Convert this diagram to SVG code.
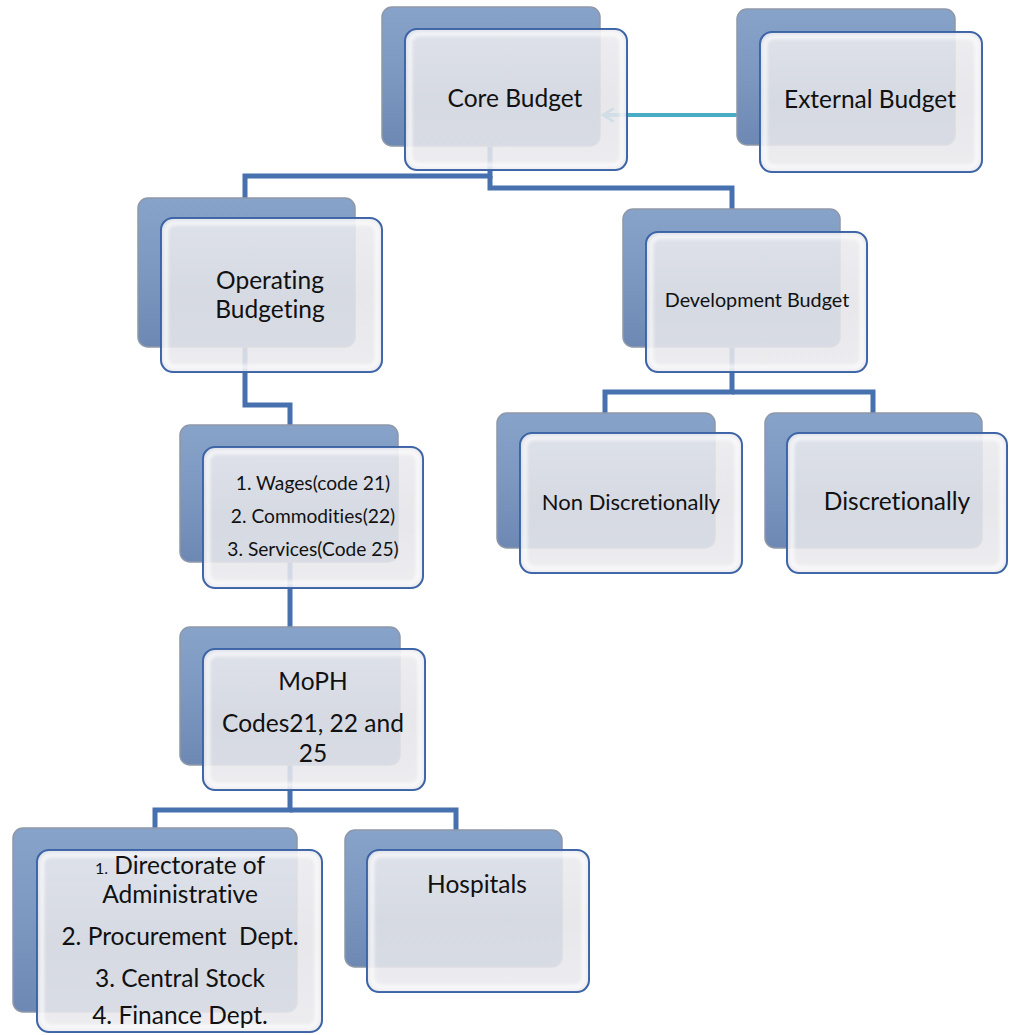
<svg xmlns="http://www.w3.org/2000/svg" width="1012" height="1035" viewBox="0 0 1012 1035">
  <defs>
    <linearGradient id="backFill" x1="0" y1="0" x2="0" y2="1">
      <stop offset="0" stop-color="#88a3c9"/>
      <stop offset="0.5" stop-color="#7c98c1"/>
      <stop offset="1" stop-color="#6d89b3"/>
    </linearGradient>
    <linearGradient id="frontFill" x1="0" y1="0" x2="0" y2="1">
      <stop offset="0" stop-color="#ebebef"/>
      <stop offset="0.5" stop-color="#e4e4e8"/>
      <stop offset="1" stop-color="#eaeaee"/>
    </linearGradient>
    <filter id="soft" x="-5%" y="-5%" width="110%" height="110%">
      <feGaussianBlur stdDeviation="1.5"/>
    </filter>
    <marker id="chev" viewBox="0 0 12 12" refX="10" refY="6" markerWidth="4" markerHeight="4" orient="auto" markerUnits="strokeWidth">
      <path d="M2,1 L10,6 L2,11" fill="none" stroke="#4bacc6" stroke-width="2"/>
    </marker>
  </defs>
  <style>
    .back { fill: url(#backFill); stroke: #8e98a8; stroke-width: 1.5; }
    .front { fill: url(#frontFill); fill-opacity: 0.87; stroke: #3a62a6; stroke-width: 2; }
    .glow { fill: none; stroke: #ffffff; stroke-opacity: 0.6; stroke-width: 5; filter: url(#soft); }
    .conn { fill: none; stroke: #4671ae; stroke-width: 5; stroke-linejoin: miter; }
    .ext { fill: none; stroke: #4bacc6; stroke-width: 4; }
    text { font-family: Lato, "Open Sans", "DejaVu Sans", sans-serif; fill: #111111; text-anchor: middle; font-variant-ligatures: none; font-feature-settings: "liga" 0, "dlig" 0; }
    .lg { font-size: 24.5px; }
    .md { font-size: 22px; }
    .dv { font-size: 19.8px; }
    .sm { font-size: 19.2px; }
    .xs { font-size: 16px; }
  </style>

  <rect x="0" y="0" width="1012" height="1035" fill="#ffffff"/>

  <!-- elbow connectors and the external funding arrow -->
  <g id="connectors">
    <path class="conn" d="M490,146 V176 H245 V198"/>
    <path class="conn" d="M490,176 V188 H732 V209"/>
    <path class="conn" d="M245,347 V405 H290 V425"/>
    <path class="conn" d="M290,562 V627"/>
    <path class="conn" d="M290,765 V810 H155 V828"/>
    <path class="conn" d="M290,810 H456 V830"/>
    <path class="conn" d="M732,347 V392 H605 V413"/>
    <path class="conn" d="M732,392 H873 V413"/>
    <path class="ext" d="M760,115 H603" marker-end="url(#chev)"/>
  </g>

  <g id="core-budget">
    <rect class="back" x="382" y="7" width="218" height="139" rx="10"/>
    <rect class="front" x="405" y="29" width="222" height="141" rx="12"/>
    <rect class="glow" x="410" y="34" width="212" height="131" rx="9"/>
    <text class="lg" x="515" y="107">Core Budget</text>
  </g>

  <g id="external-budget">
    <rect class="back" x="737" y="9" width="218" height="136" rx="10"/>
    <rect class="front" x="760" y="32" width="222" height="140" rx="12"/>
    <rect class="glow" x="765" y="37" width="212" height="130" rx="9"/>
    <text class="lg" x="870" y="108">External Budget</text>
  </g>

  <g id="operating-budgeting">
    <rect class="back" x="138" y="198" width="217" height="149" rx="10"/>
    <rect class="front" x="161" y="218" width="221" height="154" rx="12"/>
    <rect class="glow" x="166" y="223" width="211" height="144" rx="9"/>
    <text class="lg" x="270" y="289">Operating</text>
    <text class="lg" x="270" y="318">Budgeting</text>
  </g>

  <g id="development-budget">
    <rect class="back" x="623" y="209" width="217" height="138" rx="10"/>
    <rect class="front" x="646" y="232" width="221" height="140" rx="12"/>
    <rect class="glow" x="651" y="237" width="211" height="130" rx="9"/>
    <text class="dv" x="757" y="307">Development Budget</text>
  </g>

  <g id="non-discretionally">
    <rect class="back" x="497" y="413" width="218" height="135" rx="10"/>
    <rect class="front" x="520" y="433" width="222" height="140" rx="12"/>
    <rect class="glow" x="525" y="438" width="212" height="130" rx="9"/>
    <text class="md" x="631" y="510">Non Discretionally</text>
  </g>

  <g id="discretionally">
    <rect class="back" x="765" y="413" width="217" height="135" rx="10"/>
    <rect class="front" x="787" y="433" width="220" height="140" rx="12"/>
    <rect class="glow" x="792" y="438" width="210" height="130" rx="9"/>
    <text class="lg" x="897" y="510">Discretionally</text>
  </g>

  <g id="expense-codes">
    <rect class="back" x="180" y="425" width="218" height="137" rx="10"/>
    <rect class="front" x="203" y="447" width="220" height="141" rx="12"/>
    <rect class="glow" x="208" y="452" width="210" height="131" rx="9"/>
    <text class="sm" x="313" y="490">1. Wages(code 21)</text>
    <text class="sm" x="313" y="523">2. Commodities(22)</text>
    <text class="sm" x="313" y="556">3. Services(Code 25)</text>
  </g>

  <g id="moph">
    <rect class="back" x="180" y="627" width="220" height="138" rx="10"/>
    <rect class="front" x="203" y="649" width="222" height="141" rx="12"/>
    <rect class="glow" x="208" y="654" width="212" height="131" rx="9"/>
    <text class="lg" x="313" y="690">MoPH</text>
    <text class="lg" x="313" y="732">Codes21, 22 and</text>
    <text class="lg" x="313" y="762">25</text>
  </g>

  <g id="directorates">
    <rect class="back" x="13" y="828" width="284" height="184" rx="10"/>
    <rect class="front" x="37" y="850" width="285" height="182" rx="12"/>
    <rect class="glow" x="42" y="855" width="275" height="172" rx="9"/>
    <text class="lg" x="180" y="874"><tspan class="xs">1.</tspan> Directorate of</text>
    <text class="lg" x="180" y="903">Administrative</text>
    <text class="lg" x="180" y="945" style="white-space:pre">2. Procurement  Dept.</text>
    <text class="lg" x="180" y="987">3. Central Stock</text>
    <text class="lg" x="180" y="1024">4. Finance Dept.</text>
  </g>

  <g id="hospitals">
    <rect class="back" x="345" y="830" width="217" height="137" rx="10"/>
    <rect class="front" x="367" y="850" width="222" height="142" rx="12"/>
    <rect class="glow" x="372" y="855" width="212" height="132" rx="9"/>
    <text class="lg" x="477" y="893">Hospitals</text>
  </g>
</svg>
